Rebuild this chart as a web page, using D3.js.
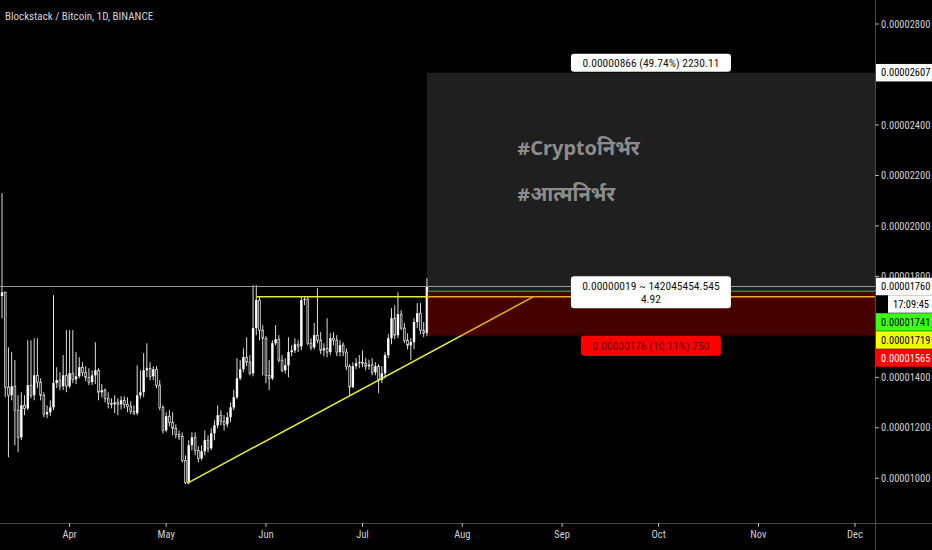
<!DOCTYPE html>
<html><head><meta charset="utf-8">
<script src="https://cdn.jsdelivr.net/npm/d3@7"></script>
<style>
html,body{margin:0;padding:0;background:#000;}
svg{display:block;}
text{font-family:"Liberation Sans Narrow","Roboto Condensed",Roboto,sans-serif;}
</style></head><body>
<svg id="c" width="932" height="550"></svg>
<script>
// Prices in satoshis (1e-8 BTC), daily candles from 2020-03-11
const firstDay = "2020-03-11";
const open  = [1722,1737,1361,1329,1365,1270,1162,1289,1277,1369,1329,1408,1381,1329,1254,1262,1281,1377,1389,1365,1408,1365,1416,1392,1404,1440,1420,1400,1381,1408,1428,1341,1349,1317,1297,1293,1301,1293,1309,1293,1285,1266,1258,1329,1341,1428,1436,1404,1432,1369,1281,1190,1246,1222,1198,1174,1166,1071,984,1131,1162,1111,1079,1107,1151,1119,1178,1210,1250,1226,1214,1242,1281,1321,1396,1432,1480,1460,1416,1595,1706,1587,1555,1408,1396,1535,1551,1468,1428,1448,1500,1507,1531,1523,1706,1710,1535,1519,1567,1547,1507,1515,1500,1555,1547,1500,1527,1500,1444,1361,1444,1456,1460,1456,1444,1450,1420,1444,1389,1416,1488,1555,1634,1567,1650,1595,1547,1527,1539,1619,1654,1587,1575];
const high  = [2130,1740,1519,1500,1468,1329,1341,1329,1547,1547,1555,1555,1396,1341,1289,1309,1726,1440,1420,1488,1587,1587,1587,1500,1480,1460,1444,1436,1428,1539,1436,1373,1357,1341,1317,1329,1317,1325,1325,1321,1305,1289,1448,1428,1496,1535,1460,1444,1444,1389,1289,1262,1270,1262,1214,1190,1182,1091,1151,1182,1182,1127,1131,1190,1170,1198,1230,1289,1270,1250,1262,1301,1349,1476,1468,1515,1559,1488,1765,1765,1722,1607,1563,1468,1547,1607,1567,1488,1476,1559,1527,1555,1547,1718,1722,1718,1555,1615,1753,1579,1535,1634,1575,1579,1567,1547,1539,1515,1452,1460,1476,1488,1507,1476,1470,1476,1460,1452,1444,1500,1571,1674,1686,1737,1666,1615,1575,1555,1634,1694,1694,1619,1793];
const low   = [1634,1321,1083,1309,1131,1103,1151,1250,1270,1317,1309,1357,1309,1242,1238,1246,1270,1357,1349,1349,1341,1357,1377,1373,1396,1404,1385,1369,1369,1373,1309,1321,1301,1277,1277,1258,1250,1273,1277,1262,1254,1250,1250,1317,1321,1400,1389,1389,1357,1270,1178,1182,1206,1170,1158,1151,1063,976,976,1111,1091,1063,1071,1091,1103,1111,1151,1198,1210,1190,1202,1222,1270,1313,1389,1420,1444,1408,1404,1567,1547,1408,1377,1349,1389,1527,1460,1420,1416,1400,1484,1496,1500,1507,1686,1527,1507,1511,1535,1492,1484,1480,1488,1527,1484,1484,1484,1428,1329,1357,1432,1436,1440,1428,1430,1408,1408,1337,1377,1396,1476,1531,1551,1555,1587,1535,1511,1468,1511,1595,1571,1559,1563];
const close = [1737,1361,1329,1365,1270,1162,1289,1277,1369,1329,1408,1381,1329,1254,1262,1281,1377,1389,1365,1408,1365,1416,1392,1404,1440,1420,1400,1381,1408,1428,1341,1349,1317,1297,1293,1301,1293,1309,1293,1285,1266,1258,1329,1341,1428,1436,1404,1432,1369,1281,1190,1246,1222,1198,1174,1166,1071,984,1131,1162,1111,1079,1107,1151,1119,1178,1210,1250,1226,1214,1242,1281,1321,1396,1432,1480,1460,1416,1595,1706,1587,1555,1408,1396,1535,1551,1468,1428,1448,1500,1507,1531,1523,1706,1710,1535,1519,1567,1547,1507,1515,1500,1555,1547,1500,1527,1500,1444,1361,1444,1456,1460,1456,1444,1450,1420,1444,1389,1416,1488,1555,1634,1567,1650,1595,1547,1527,1539,1619,1654,1587,1575,1760];

// Drawings (prices in satoshis)
const lastPrice = 1760;
const countdown = "17:09:45";
const resistance = {price: 1719, from: "2020-05-29"};
const trendStart = {date: "2020-05-07T12:00:00Z", price: 980};
const trendEnd   = {date: "2020-08-23T00:00:00Z", price: 1719};
const position = {from: "2020-07-21", entry: 1741, target: 2607, stop: 1565};
const profitLabel = "0.00000866 (49.74%) 2230.11";
const midLabel = ["0.00000019 ~ 142045454.545", "4.92"];
const lossLabel = "0.00000176 (10.11%) 750";
const hashtags = ["#Cryptoनिर्भर", "#आत्मनिर्भर"];
const title = "Blockstack / Bitcoin, 1D, BINANCE";

// Axes
const yTicks = [1000, 1200, 1400, 1800, 2000, 2200, 2400, 2800];
const monthTicks = ["2020-04-01","2020-05-01","2020-06-01","2020-07-01","2020-08-01","2020-09-01","2020-10-01","2020-11-01","2020-12-01"];
const monthLabels = ["Apr","May","Jun","Jul","Aug","Sep","Oct","Nov","Dec"];

const W = 932, H = 550, plotR = 875, plotB = 523;
const SAT = 1e-8;
const fmt = v => (v * SAT).toFixed(8);
const D = s => new Date(s.length === 10 ? s + "T00:00:00Z" : s);

const x = d3.scaleUtc().domain([D("2020-04-01"), D("2020-12-01")]).range([69.6, 855]);
const y = d3.scaleLinear().domain([1000, 2800]).range([478.3, 24]);

const day0 = D(firstDay);
const candles = open.map((o, i) => ({
  date: d3.utcDay.offset(day0, i), o, h: high[i], l: low[i], c: close[i]
}));

const svg = d3.select("#c");
svg.append("rect").attr("width", W).attr("height", H).attr("fill", "#000");
svg.append("defs").append("clipPath").attr("id", "plot")
  .append("rect").attr("width", plotR).attr("height", plotB);
const g = svg.append("g").attr("clip-path", "url(#plot)");

// Title
svg.append("text").attr("x", 5).attr("y", 20).attr("fill", "#d6d6d6")
  .attr("font-size", 11).text(title);

// Candles
const cg = g.append("g");
cg.selectAll("line").data(candles).join("line")
  .attr("x1", d => x(d.date)).attr("x2", d => x(d.date))
  .attr("y1", d => y(d.h)).attr("y2", d => y(d.l))
  .attr("stroke", "#dcdcdc").attr("stroke-width", 1);
cg.selectAll("rect").data(candles).join("rect")
  .attr("x", d => x(d.date) - (d.c >= d.o ? 1.2 : 0.9))
  .attr("width", d => d.c >= d.o ? 2.4 : 1.8)
  .attr("y", d => y(Math.max(d.o, d.c)))
  .attr("height", d => Math.max(1, Math.abs(y(d.o) - y(d.c))))
  .attr("fill", d => d.c >= d.o ? "#ffffff" : "#222")
  .attr("stroke", d => d.c >= d.o ? "none" : "#e6e6e6")
  .attr("stroke-width", 0.7);

// Yellow lines
const yellow = "#e4ec3c";
g.append("line").attr("x1", x(D(resistance.from))).attr("x2", plotR)
  .attr("y1", y(resistance.price)).attr("y2", y(resistance.price))
  .attr("stroke", yellow).attr("stroke-width", 1.5);
g.append("line").attr("x1", x(D(trendStart.date))).attr("y1", y(trendStart.price))
  .attr("x2", x(D(trendEnd.date))).attr("y2", y(trendEnd.price))
  .attr("stroke", yellow).attr("stroke-width", 1.5);

// Long position tool
const bx0 = x(D(position.from)), bx1 = plotR, bcx = (bx0 + bx1) / 2;
g.append("rect").attr("x", bx0).attr("width", bx1 - bx0)
  .attr("y", y(position.target)).attr("height", y(position.entry) - y(position.target))
  .attr("fill", "rgba(255,255,255,0.12)");
g.append("rect").attr("x", bx0).attr("width", bx1 - bx0)
  .attr("y", y(position.entry)).attr("height", y(position.stop) - y(position.entry))
  .attr("fill", "rgba(255,0,0,0.27)");
g.append("line").attr("x1", bx0).attr("x2", bx1)
  .attr("y1", y(position.entry)).attr("y2", y(position.entry))
  .attr("stroke", "#4caf50").attr("stroke-width", 1);

// Last price line
g.append("line").attr("x1", 0).attr("x2", plotR)
  .attr("y1", y(lastPrice)).attr("y2", y(lastPrice))
  .attr("stroke", "#9a9a9a").attr("stroke-width", 1);

// Hashtags
hashtags.forEach((t, i) => {
  svg.append("text").attr("x", bx0 + 90).attr("y", y(2281) + i * 46)
    .attr("fill", "#8c8c8c").attr("font-size", 20).attr("font-weight", 700)
    .style("font-family", "'Liberation Sans Narrow','Noto Sans Devanagari','Noto Sans',sans-serif")
    .text(t);
});

// Position labels
function label(cx, cy, w, h, lines, bg, fg) {
  svg.append("rect").attr("x", cx - w / 2).attr("y", cy - h / 2).attr("width", w).attr("height", h)
    .attr("rx", 3).attr("fill", bg);
  lines.forEach((t, i) => {
    svg.append("text").attr("x", cx).attr("y", cy + (i - (lines.length - 1) / 2) * 13)
      .attr("dy", "0.35em").attr("text-anchor", "middle").attr("font-size", 11.5)
      .attr("fill", fg).text(t);
  });
}
label(bcx, y(position.target) - 10, 160, 18, [profitLabel], "#ffffff", "#131313");
label(bcx, y(position.entry) + 1, 160, 32, midLabel, "#ffffff", "#131313");
label(bcx, y(position.stop) + 10, 140, 20, [lossLabel], "#ff0000", "#6a0000");

// Axes lines
svg.append("line").attr("x1", plotR + 0.5).attr("x2", plotR + 0.5).attr("y1", 0).attr("y2", H)
  .attr("stroke", "#4a4a4a");
svg.append("line").attr("x1", 0).attr("x2", W).attr("y1", plotB + 0.5).attr("y2", plotB + 0.5)
  .attr("stroke", "#4a4a4a");

// Y ticks
const yg = svg.append("g");
yTicks.forEach(v => {
  yg.append("line").attr("x1", plotR).attr("x2", plotR + 4).attr("y1", y(v)).attr("y2", y(v))
    .attr("stroke", "#bbb");
  yg.append("text").attr("x", plotR + 6).attr("y", y(v)).attr("dy", "0.35em")
    .attr("font-size", 10.5).attr("fill", "#d0d0d0").text(fmt(v));
});

// X ticks
monthTicks.forEach((m, i) => {
  const px = x(D(m));
  svg.append("line").attr("x1", px).attr("x2", px).attr("y1", plotB).attr("y2", plotB + 4)
    .attr("stroke", "#bbb");
  svg.append("text").attr("x", px).attr("y", plotB + 15).attr("text-anchor", "middle")
    .attr("font-size", 10.5).attr("fill", "#d0d0d0").text(monthLabels[i]);
});

// Price tags on axis
const tagH = 17.5;
function tag(top, v, bg, fg, x0) {
  const left = x0 || plotR + 1;
  yg.append("rect").attr("x", left).attr("y", top).attr("width", W - left).attr("height", tagH)
    .attr("fill", bg);
  yg.append("text").attr("x", left + 5).attr("y", top + tagH / 2).attr("dy", "0.35em")
    .attr("font-size", 10.5).attr("fill", fg).text(v);
}
tag(y(position.target) - tagH / 2, fmt(position.target), "#ffffff", "#000");
let t = y(lastPrice) - tagH / 2;
tag(t, fmt(lastPrice), "#ffffff", "#000");
tag(t + tagH, countdown, "#ffffff", "#000", plotR + 13);
let bottom = t + 2 * tagH;
[[position.entry, "#3dff1a", "#000"], [resistance.price, "#ffff00", "#000"], [position.stop, "#ff0000", "#fff"]]
  .forEach(([v, bg, fg]) => {
    const top = Math.max(y(v) - tagH / 2, bottom + 0.5);
    tag(top, fmt(v), bg, fg);
    bottom = top + tagH;
  });
</script>
</body></html>
